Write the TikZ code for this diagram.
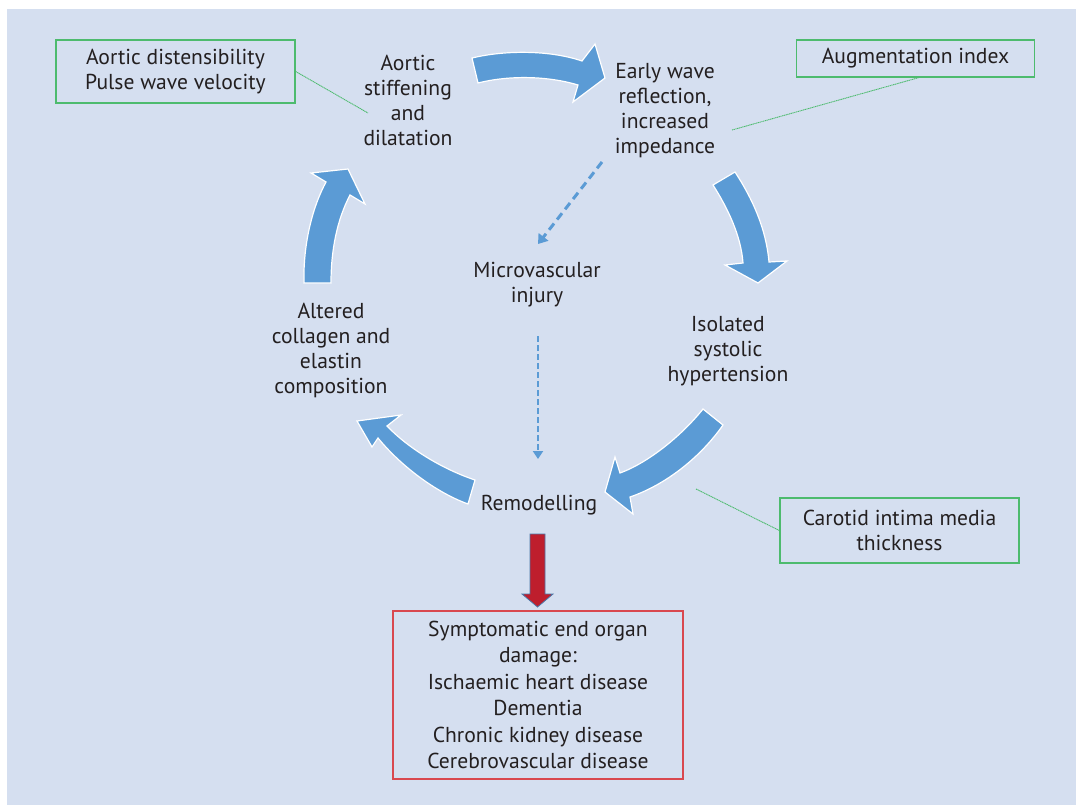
\documentclass[tikz,border=0pt]{standalone}
\usepackage{fontspec}
\setmainfont{PT Sans}
\usetikzlibrary{arrows.meta}
\definecolor{bg}{HTML}{D5DFF0}
\definecolor{flow}{HTML}{5B9BD5}
\definecolor{note}{HTML}{4DBB6E}
\definecolor{ink}{HTML}{231F20}
\definecolor{alarm}{HTML}{BE1E2D}
\definecolor{alarmedge}{HTML}{D9484F}
\definecolor{shaftedge}{HTML}{4A77A8}
\begin{document}
\begin{tikzpicture}[x=1pt,y=-1pt,
  lbl/.style={align=center, text=ink, font=\fontsize{21.6}{25}\selectfont, inner sep=0pt},
  notebox/.style={draw=note, line width=1.4pt, align=center, text=ink,
    font=\fontsize{21.6}{25.5}\selectfont, inner sep=0pt},
  alarmbox/.style={draw=alarmedge, line width=1.1pt, align=center, text=ink,
    font=\fontsize{21.6}{26.5}\selectfont, inner sep=0pt},
  noteline/.style={draw=note, line width=0.9pt, dash pattern=on 1.2pt off 0.6pt},
  blockarrow/.style={fill=flow, draw=white, line width=1.2pt, line join=miter},
  linkdiag/.style={draw=flow, line width=3pt, dash pattern=on 8pt off 5pt,
    -{Triangle[length=9pt,width=12pt]}},
  linkvert/.style={draw=flow, line width=2.6pt, dash pattern=on 6pt off 3pt,
    -{Triangle[length=8pt,width=10pt]}}]

% canvas
\useasboundingbox (0,0) rectangle (1076,805);
\fill[white] (0,0) rectangle (1076,805);
\fill[bg] (7,9) rectangle (1076,805);

% stages of the cycle
\node[lbl] (stiff) at (408,100) {Aortic\\stiffening\\and\\dilatation};
\node[lbl] (early) at (665,111) {Early wave\\reflection,\\increased\\impedance};
\node[lbl] (micro) at (537,285) {Microvascular\\injury};
\node[lbl] (isol) at (728,351) {Isolated\\systolic\\hypertension};
\node[lbl] (alter) at (331,350) {Altered\\collagen and\\elastin\\composition};
\node[lbl] (remod) at (539,505) {Remodelling};

% measurement boxes
\node[notebox, minimum width=239pt, minimum height=63pt] (distens) at (175.5,71.5)
  {Aortic distensibility\\Pulse wave velocity};
\node[notebox, minimum width=238pt, minimum height=37pt] (augment) at (915.5,58.5)
  {Augmentation index};
\node[notebox, minimum width=239pt, minimum height=65pt] (carotid) at (899.5,530.5)
  {Carotid intima media\\thickness};

% outcome box
\node[alarmbox, minimum width=290pt, minimum height=168pt] (damage) at (538,695)
  {Symptomatic end organ\\damage:\\Ischaemic heart disease\\Dementia\\Chronic kidney disease\\Cerebrovascular disease};

% leader lines
\coordinate (pStiff) at (368,113);
\coordinate (pEarly) at (732,130);
\coordinate (pRemod) at (696,489);
\draw[noteline] (distens.east) -- (pStiff);
\draw[noteline] ([xshift=3pt]augment.south) -- (pEarly);
\draw[noteline] (carotid.west) -- (pRemod);

% curved block arrows of the cycle
\path[blockarrow] (472,58) .. controls (505,50) and (550,50) .. (582,61)
  -- (595,44) -- (605,78) -- (573,102) -- (578,85)
  .. controls (548,76) and (510,75) .. (478,83) -- cycle;
\path[blockarrow] (713,185) .. controls (727,207) and (741,235) .. (743,263)
  -- (725,265) -- (758,283) -- (787,261) -- (769,262)
  .. controls (766,228) and (752,198) .. (735,172) -- cycle;
\path[blockarrow] (703,409) .. controls (683,434) and (650,462) .. (620,473)
  -- (615,457) -- (605,492) -- (633,514) -- (630,497)
  .. controls (665,485) and (700,458) .. (723,425) -- cycle;
\path[blockarrow] (475,480) .. controls (445,470) and (410,450) .. (387,426)
  -- (401,415) -- (357,421) -- (372,447) -- (378,438)
  .. controls (400,465) and (435,492) .. (468,504) -- cycle;
\path[blockarrow] (304,283) .. controls (303,245) and (312,208) .. (326,182)
  -- (311,173) -- (348,169) -- (365,204) -- (350,195)
  .. controls (337,220) and (331,250) .. (331,283) -- cycle;

% dashed links through microvascular injury
\coordinate (dStart) at (602,162);
\coordinate (dEnd) at (538,244);
\coordinate (vStart) at (538,336);
\coordinate (vEnd) at (538,459);
\draw[linkdiag] (dStart) -- (dEnd);
\draw[linkvert] (vStart) -- (vEnd);

% remodelling leads to organ damage
\path[fill=alarm, draw=shaftedge, line width=0.8pt]
  (530,534) -- (545,534) -- (545,594) -- (553,594) -- (537.5,607)
  -- (522,594) -- (530,594) -- cycle;
\end{tikzpicture}
\end{document}
